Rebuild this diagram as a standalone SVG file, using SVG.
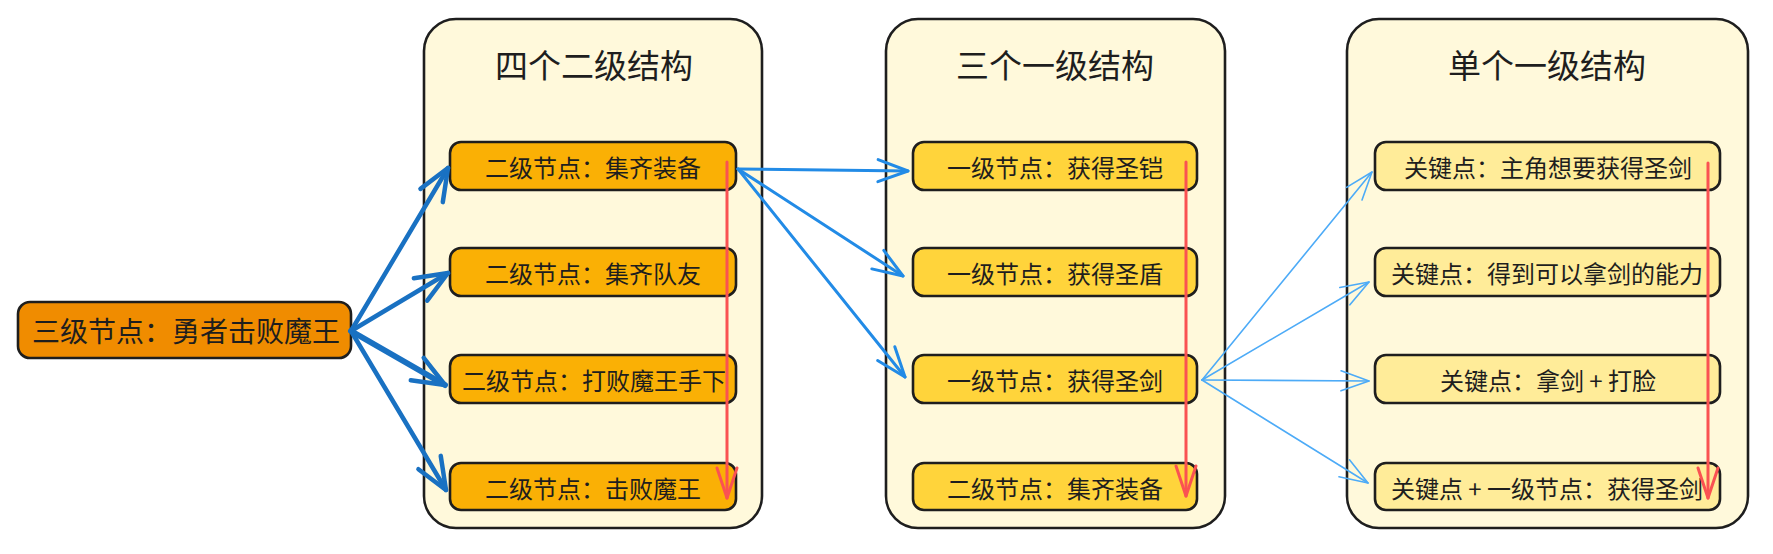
<svg xmlns="http://www.w3.org/2000/svg" width="1773" height="554" viewBox="0 0 1773 554">
<style>
.container{fill:#fff9db;stroke:#1e1e1e;stroke-width:2.6}
.node{stroke:#1e1e1e;stroke-width:2.6}
.n0{fill:#f08c00}
.n1{fill:#fab005}
.n2{fill:#ffd43b}
.n3{fill:#ffec99}
text{font-family:"Noto Sans CJK SC","Noto Sans",sans-serif;fill:#1e1e1e;text-anchor:middle;dominant-baseline:central}
.title{font-size:33px}
.big{font-size:28px}
.lbl{font-size:24px}
.c{fill:none;stroke-linecap:round;stroke-linejoin:round}
.b1{stroke:#1971c2;stroke-width:4.5}
.b2{stroke:#228be6;stroke-width:3}
.b3{stroke:#4dabf7;stroke-width:1.6}
.r{stroke:#fa5252;stroke-width:3}
</style>
<defs>
<marker id="h1" markerUnits="userSpaceOnUse" markerWidth="1" markerHeight="1" refX="0" refY="0" orient="auto" overflow="visible"><path d="M-32,-13 L0,0 L-32,13" fill="none" stroke="#1971c2" stroke-width="4.5" stroke-linecap="round" stroke-linejoin="round"/></marker>
<marker id="h2" markerUnits="userSpaceOnUse" markerWidth="1" markerHeight="1" refX="0" refY="0" orient="auto" overflow="visible"><path d="M-30,-11 L0,0 L-30,11" fill="none" stroke="#228be6" stroke-width="3" stroke-linecap="round" stroke-linejoin="round"/></marker>
<marker id="h3" markerUnits="userSpaceOnUse" markerWidth="1" markerHeight="1" refX="0" refY="0" orient="auto" overflow="visible"><path d="M-28,-10 L0,0 L-28,10" fill="none" stroke="#4dabf7" stroke-width="1.6" stroke-linecap="round" stroke-linejoin="round"/></marker>
<marker id="hr" markerUnits="userSpaceOnUse" markerWidth="1" markerHeight="1" refX="0" refY="0" orient="auto" overflow="visible"><path d="M-30,-10 L0,0 L-30,10" fill="none" stroke="#fa5252" stroke-width="3" stroke-linecap="round" stroke-linejoin="round"/></marker>
</defs>

<g id="group-four">
<rect class="container" x="424" y="19" width="338" height="509" rx="32"/>
<text class="title" x="594" y="64">四个二级结构</text>
</g>
<g id="group-three">
<rect class="container" x="886" y="19" width="339" height="509" rx="32"/>
<text class="title" x="1055" y="64">三个一级结构</text>
</g>
<g id="group-single">
<rect class="container" x="1347" y="19" width="401" height="509" rx="32"/>
<text class="title" x="1547" y="64">单个一级结构</text>
</g>

<g id="node-root">
<rect class="node n0" x="18" y="302" width="333" height="56" rx="12"/>
<text class="big" x="186" y="330">三级节点：勇者击败魔王</text>
</g>

<g id="node-a1"><rect class="node n1" x="450" y="142" width="286" height="48" rx="11"/><text class="lbl" x="593" y="166">二级节点：集齐装备</text></g>
<g id="node-a2"><rect class="node n1" x="450" y="248" width="286" height="48" rx="11"/><text class="lbl" x="593" y="272">二级节点：集齐队友</text></g>
<g id="node-a3"><rect class="node n1" x="450" y="355" width="286" height="48" rx="11"/><text class="lbl" x="594" y="379">二级节点：打败魔王手下</text></g>
<g id="node-a4"><rect class="node n1" x="450" y="463" width="286" height="47" rx="11"/><text class="lbl" x="593" y="487">二级节点：击败魔王</text></g>

<g id="node-b1"><rect class="node n2" x="913" y="142" width="284" height="48" rx="11"/><text class="lbl" x="1055" y="166">一级节点：获得圣铠</text></g>
<g id="node-b2"><rect class="node n2" x="913" y="248" width="284" height="48" rx="11"/><text class="lbl" x="1055" y="272">一级节点：获得圣盾</text></g>
<g id="node-b3"><rect class="node n2" x="913" y="355" width="284" height="48" rx="11"/><text class="lbl" x="1055" y="379">一级节点：获得圣剑</text></g>
<g id="node-b4"><rect class="node n2" x="913" y="463" width="284" height="47" rx="11"/><text class="lbl" x="1055" y="487">二级节点：集齐装备</text></g>

<g id="node-c1"><rect class="node n3" x="1375" y="142" width="345" height="48" rx="11"/><text class="lbl" x="1548" y="166">关键点：主角想要获得圣剑</text></g>
<g id="node-c2"><rect class="node n3" x="1375" y="248" width="345" height="48" rx="11"/><text class="lbl" x="1547" y="272">关键点：得到可以拿剑的能力</text></g>
<g id="node-c3"><rect class="node n3" x="1375" y="355" width="345" height="48" rx="11"/><text class="lbl" x="1548" y="379">关键点：拿剑 + 打脸</text></g>
<g id="node-c4"><rect class="node n3" x="1375" y="463" width="345" height="47" rx="11"/><text class="lbl" x="1547" y="487">关键点 + 一级节点：获得圣剑</text></g>

<g id="connectors">
<path class="c b1" d="M351,331 L448,168" marker-end="url(#h1)"/>
<path class="c b1" d="M351,331 L448,273" marker-end="url(#h1)"/>
<path class="c b1" d="M351,331 L445,385" style="stroke-width:6" marker-end="url(#h1)"/>
<path class="c b1" d="M351,331 L446,490" marker-end="url(#h1)"/>

<path class="c b2" d="M738,169 L908,171" marker-end="url(#h2)"/>
<path class="c b2" d="M738,169 L903,276" marker-end="url(#h2)"/>
<path class="c b2" d="M738,169 L905,377" marker-end="url(#h2)"/>

<path class="c b3" d="M1202,380 L1372,172" marker-end="url(#h3)"/>
<path class="c b3" d="M1202,380 L1369,282" marker-end="url(#h3)"/>
<path class="c b3" d="M1202,380 L1369,381" marker-end="url(#h3)"/>
<path class="c b3" d="M1202,380 L1368,483" marker-end="url(#h3)"/>

<path class="c r" d="M727,162 L727,498" marker-end="url(#hr)"/>
<path class="c r" d="M1186,162 L1186,496" marker-end="url(#hr)"/>
<path class="c r" d="M1708,163 L1708,498" marker-end="url(#hr)"/>
</g>
</svg>
